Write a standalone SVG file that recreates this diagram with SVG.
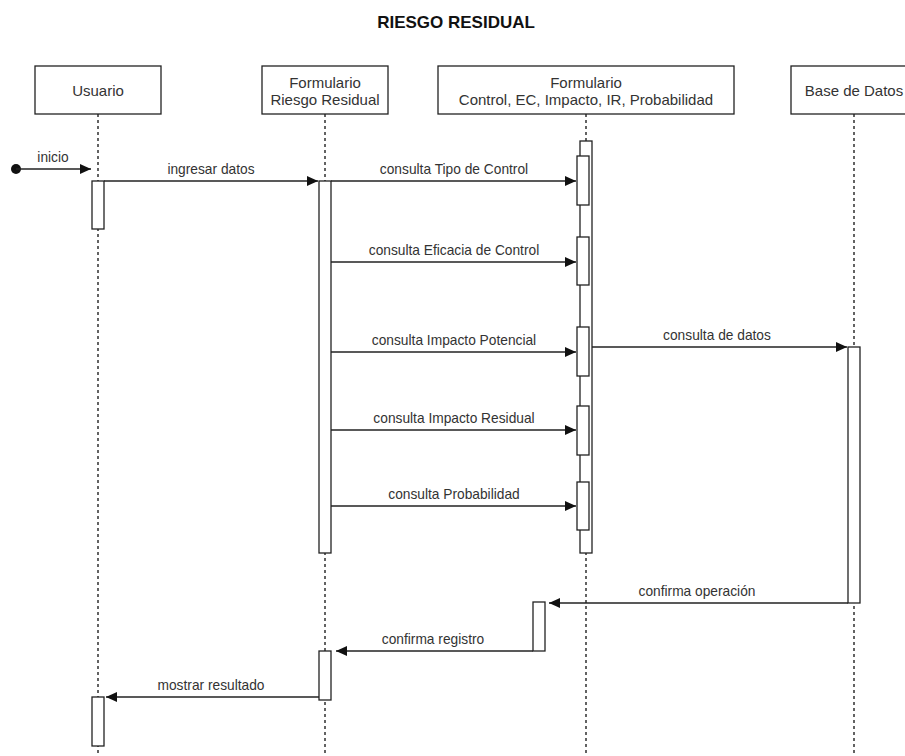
<svg xmlns="http://www.w3.org/2000/svg" width="905" height="756" viewBox="0 0 905 756">
<style>
.box{fill:#fff;stroke:#222;stroke-width:1.3}
.act{fill:#fff;stroke:#222;stroke-width:1.3}
.life{stroke:#222;stroke-width:1.4;stroke-dasharray:3 3;fill:none}
.msg{stroke:#222;stroke-width:1.3;fill:none;marker-end:url(#arr)}
.lbl{font-family:"Liberation Sans",Arial,sans-serif;font-size:15px;fill:#333;text-anchor:middle}
.mlbl{font-family:"Liberation Sans",Arial,sans-serif;font-size:13.75px;fill:#333;text-anchor:middle}
.title{font-family:"Liberation Sans",Arial,sans-serif;font-size:17px;font-weight:bold;fill:#111;text-anchor:middle}
</style>
<defs>
<marker id="arr" markerUnits="userSpaceOnUse" markerWidth="12" markerHeight="10" refX="11" refY="5" orient="auto">
<path d="M0,0 L11,5 L0,10 Z" fill="#111"/>
</marker>
</defs>
<rect width="905" height="756" fill="#fff"/>
<text class="title" x="456" y="28">RIESGO RESIDUAL</text>

<g id="lifelines">
<line class="life" x1="98" y1="114" x2="98" y2="756"/>
<line class="life" x1="325" y1="114" x2="325" y2="756"/>
<line class="life" x1="586" y1="114" x2="586" y2="756"/>
<line class="life" x1="854" y1="114" x2="854" y2="756"/>
</g>

<g id="usuario">
<rect class="box" x="35" y="66" width="126" height="48"/>
<text class="lbl" x="98" y="96">Usuario</text>
<rect class="act" x="92" y="181" width="12" height="48"/>
<rect class="act" x="92" y="697" width="12" height="49"/>
</g>

<g id="formulario-rr">
<rect class="box" x="262" y="66" width="126" height="48"/>
<text class="lbl" x="325" y="88">Formulario</text>
<text class="lbl" x="325" y="105">Riesgo Residual</text>
<rect class="act" x="319" y="181" width="12" height="372"/>
<rect class="act" x="319" y="651" width="12" height="49"/>
</g>

<g id="formulario-control">
<rect class="box" x="438" y="66" width="296" height="48"/>
<text class="lbl" x="586" y="88">Formulario</text>
<text class="lbl" x="586" y="105">Control, EC, Impacto, IR, Probabilidad</text>
<rect class="act" x="580" y="141" width="12" height="412"/>
<rect class="act" x="577" y="156" width="12" height="49"/>
<rect class="act" x="577" y="237" width="12" height="48"/>
<rect class="act" x="577" y="327" width="12" height="49"/>
<rect class="act" x="577" y="406" width="12" height="49"/>
<rect class="act" x="577" y="482" width="12" height="48"/>
<rect class="act" x="533" y="602" width="12" height="49"/>
</g>

<g id="base-datos">
<rect class="box" x="791" y="66" width="126" height="48"/>
<text class="lbl" x="854" y="96">Base de Datos</text>
<rect class="act" x="848" y="347" width="12" height="256"/>
</g>

<g id="connectors">
<circle cx="16" cy="169" r="5" fill="#111"/>
<line class="msg" x1="16" y1="169" x2="91" y2="169"/>
<text class="mlbl" x="53" y="162">inicio</text>

<line class="msg" x1="104" y1="181" x2="318" y2="181"/>
<text class="mlbl" x="211" y="174">ingresar datos</text>

<line class="msg" x1="331" y1="181" x2="576" y2="181"/>
<text class="mlbl" x="454" y="174">consulta Tipo de Control</text>

<line class="msg" x1="331" y1="262" x2="576" y2="262"/>
<text class="mlbl" x="454" y="255">consulta Eficacia de Control</text>

<line class="msg" x1="331" y1="352" x2="576" y2="352"/>
<text class="mlbl" x="454" y="345">consulta Impacto Potencial</text>

<line class="msg" x1="331" y1="430" x2="576" y2="430"/>
<text class="mlbl" x="454" y="423">consulta Impacto Residual</text>

<line class="msg" x1="331" y1="506" x2="576" y2="506"/>
<text class="mlbl" x="454" y="499">consulta Probabilidad</text>

<line class="msg" x1="592" y1="347" x2="847" y2="347"/>
<text class="mlbl" x="717" y="340">consulta de datos</text>

<line class="msg" x1="848" y1="603" x2="549" y2="603"/>
<text class="mlbl" x="697" y="596">confirma operación</text>

<line class="msg" x1="533" y1="651" x2="336" y2="651"/>
<text class="mlbl" x="433" y="644">confirma registro</text>

<line class="msg" x1="319" y1="697" x2="106" y2="697"/>
<text class="mlbl" x="211" y="690">mostrar resultado</text>
</g>
</svg>
